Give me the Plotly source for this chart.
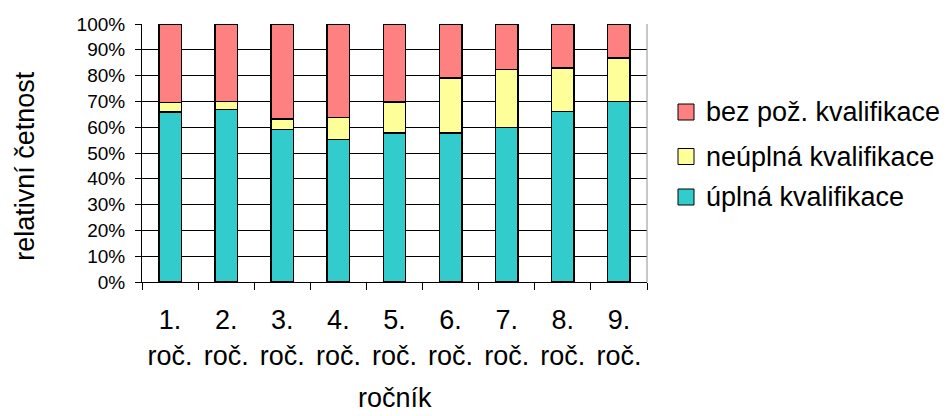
import plotly.graph_objects as go

# Share of teachers by qualification level in each school year (percent)
categories = ["1.<br>roč.", "2.<br>roč.", "3.<br>roč.", "4.<br>roč.", "5.<br>roč.",
              "6.<br>roč.", "7.<br>roč.", "8.<br>roč.", "9.<br>roč."]
uplna = [65.8, 66.8, 59.1, 55.2, 57.7, 57.7, 59.9, 66.1, 70.0]
neuplna = [3.7, 3.2, 4.1, 8.6, 12.0, 21.4, 22.4, 16.9, 16.8]
bez_kval = [30.5, 30.0, 36.8, 36.2, 30.3, 20.9, 17.7, 17.0, 13.2]

y_ticks = list(range(0, 101, 10))
y_tick_text = [f"{v}%" for v in y_ticks]

FONT = "Liberation Sans, Arial, sans-serif"
W, H = 949, 416
M_L, M_R, M_T, M_B = 142, 302, 24, 134

# stacked bottom to top
series = [
    ("úplná kvalifikace", uplna, "#33CCCC"),
    ("neúplná kvalifikace", neuplna, "#FFFF99"),
    ("bez pož. kvalifikace", bez_kval, "#FF8080"),
]

fig = go.Figure()
for name, vals, color in series:
    fig.add_trace(go.Bar(
        x=categories, y=vals, name=name,
        marker=dict(color=color, line=dict(color="black", width=1.5)),
    ))


def px_to_paper(px, py):
    """Convert page pixel position to paper coordinates of the plot area."""
    pw = W - M_L - M_R
    ph = H - M_T - M_B
    return (px - M_L) / pw, (H - M_B - py) / ph


# Legend drawn as swatches + labels, listed top to bottom in reverse stack order
shapes = [
    dict(type="line", xref="paper", yref="paper", x0=1, x1=1, y0=0, y1=1,
         line=dict(color="#909090", width=1)),
]
annotations = []
row_y = [112, 156.5, 197]
for (name, _, color), cy in zip(reversed(series), row_y):
    x0, y0 = px_to_paper(678, cy + 8)
    x1, y1 = px_to_paper(694, cy - 8)
    shapes.append(dict(type="rect", xref="paper", yref="paper",
                       x0=x0, x1=x1, y0=y0, y1=y1,
                       fillcolor=color, line=dict(color="black", width=1)))
    tx, ty = px_to_paper(704, cy)
    annotations.append(dict(text=name, xref="paper", yref="paper", x=tx, y=ty,
                            xanchor="left", yanchor="middle", showarrow=False,
                            font=dict(size=27, family=FONT, color="black")))

annotations += [
    dict(text="ročník", xref="paper", yref="paper", x=0.5, y=-0.45,
         xanchor="center", yanchor="middle", showarrow=False,
         font=dict(size=27, family=FONT)),
    dict(text="relativní četnost", xref="paper", yref="paper", x=-0.232, y=0.45,
         xanchor="center", yanchor="middle", showarrow=False, textangle=-90,
         font=dict(size=27, family=FONT)),
]

fig.update_layout(
    width=W, height=H,
    margin=dict(l=M_L, r=M_R, t=M_T, b=M_B),
    barmode="stack", bargap=0.6,
    plot_bgcolor="white", paper_bgcolor="white",
    font=dict(family=FONT, color="black"),
    showlegend=False,
    xaxis=dict(
        range=[-0.5, 8.5], tickson="boundaries",
        ticks="outside", ticklen=7, tickcolor="black", tickwidth=1,
        showline=True, linecolor="black", linewidth=1,
        showgrid=False, tickfont=dict(size=27, family=FONT),
        ticklabelstandoff=14,
    ),
    yaxis=dict(
        range=[0, 100], tickvals=y_ticks, ticktext=y_tick_text,
        ticks="outside", ticklen=6, tickcolor="black", tickwidth=1,
        showline=True, linecolor="black", linewidth=1,
        showgrid=True, gridcolor="black", gridwidth=1,
        zeroline=False, tickfont=dict(size=19, family=FONT),
        ticklabelstandoff=6,
    ),
    shapes=shapes,
    annotations=annotations,
)

fig.write_html("out.html")
